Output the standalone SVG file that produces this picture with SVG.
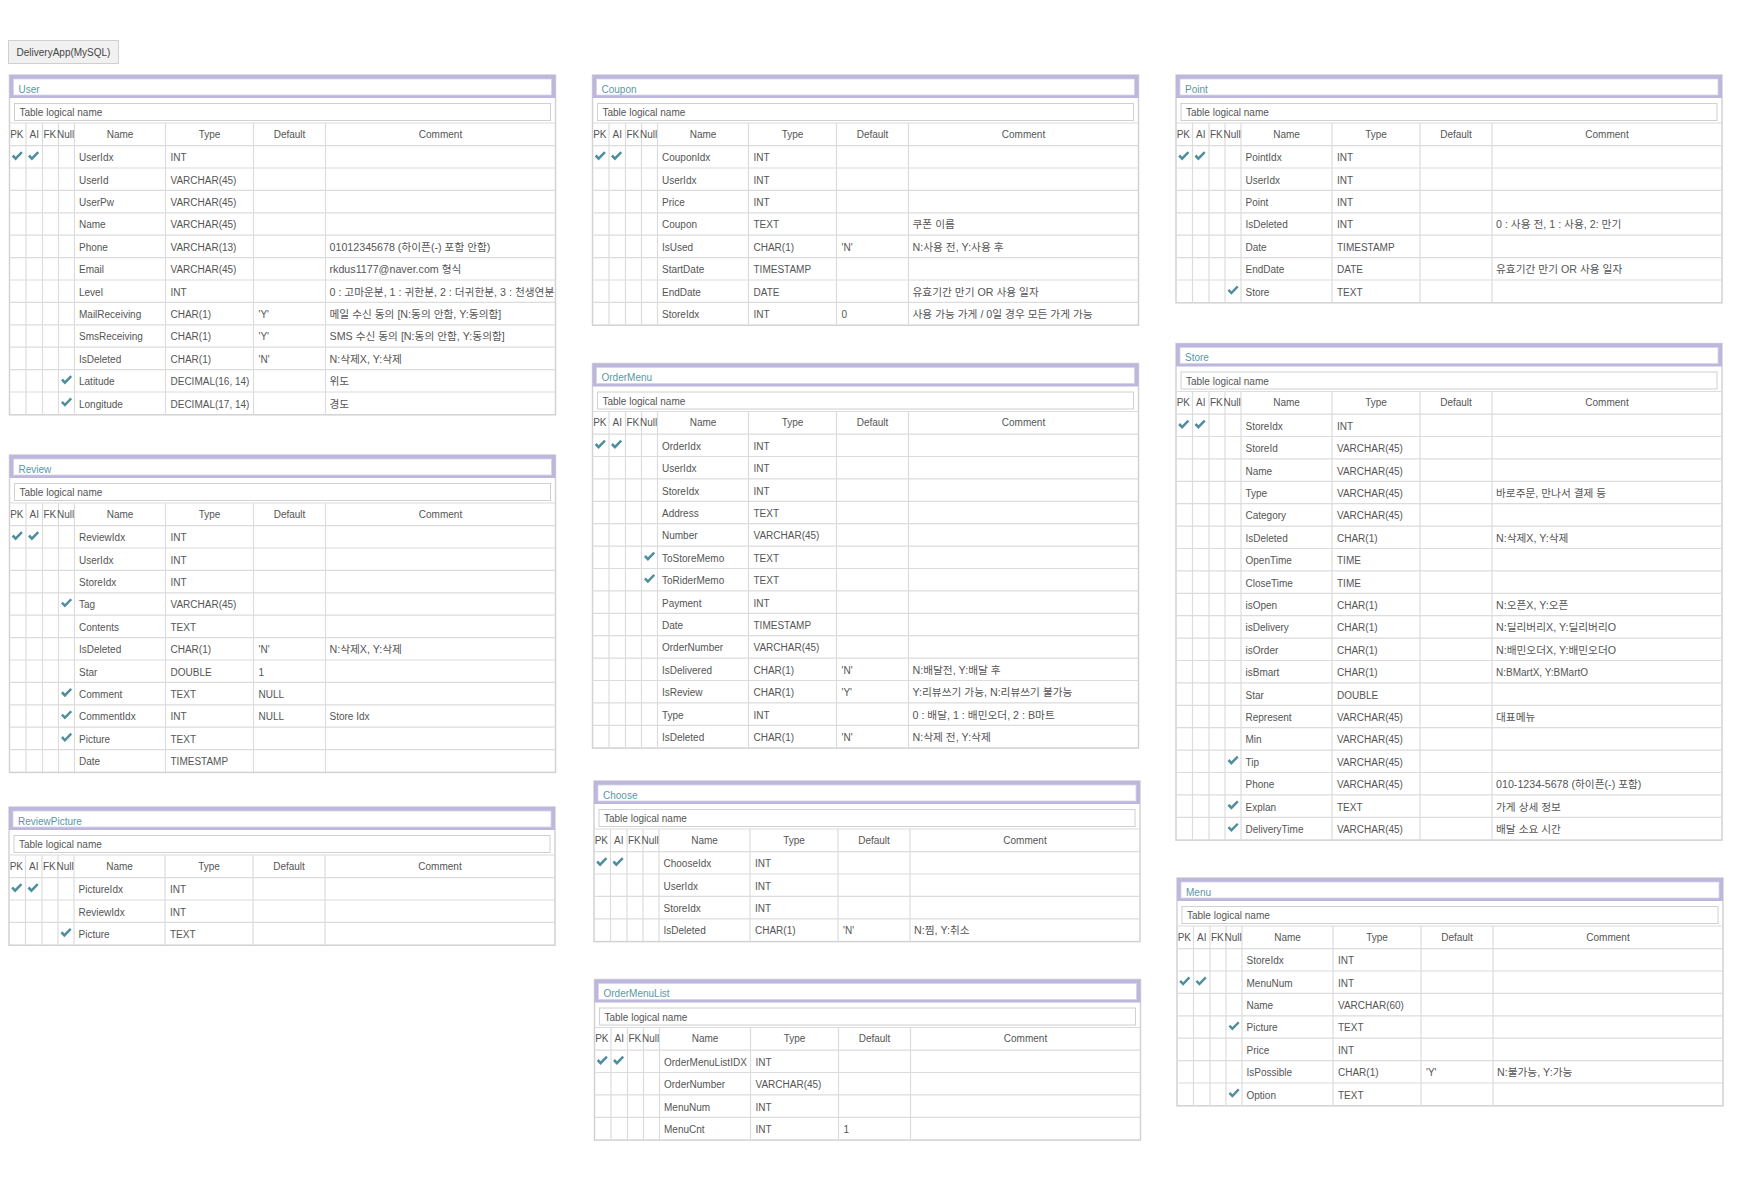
<svg xmlns="http://www.w3.org/2000/svg" xmlns:xlink="http://www.w3.org/1999/xlink" width="1746" height="1184" viewBox="0 0 1746 1184">
<style>
text{font-family:"Liberation Sans","Noto Sans CJK KR",sans-serif;font-size:10px;fill:#555}
.k{font-size:10.7px}
.fr{fill:#fff;stroke:#d2d2d2;stroke-width:1.5}
.g{fill:none;stroke:#dcdcdc;stroke-width:1.2}
.band{fill:#bdb6dd}
.bi{fill:#fff;stroke:#d6d2ea;stroke-width:0.8}
.lb{fill:#fff;stroke:#d0d0d0;stroke-width:1}
.ti{fill:#5a97a6}
.h{text-anchor:middle}
.ck{fill:#4f8e9e}
.btn{fill:#f1f1f1;stroke:#cfcfcf;stroke-width:1}
</style>
<defs>
<path id="ck" class="ck" d="M-5.5,0.2 L-3.6,-1.7 L-1.6,0.6 L3.9,-5 L5.6,-3.3 L-1.6,4.2 Z"/>
<path id="rg" class="g" d="M0,0H546M16.5,0v22.4M33,0v22.4M49,0v22.4M65,0v22.4M156,0v22.4M244,0v22.4M316,0v22.4"/>
<g id="head">
<rect class="band" width="546" height="23"/>
<rect class="bi" x="4" y="4" width="538" height="16"/>
<rect class="lb" x="5" y="28.5" width="536" height="17"/>
<text x="10" y="41.1">Table logical name</text>
<g transform="translate(0,48)">
<use href="#rg"/>
<text x="0.7" y="14.6">PK</text><text x="20" y="14.6">AI</text><text x="34" y="14.6">FK</text><text x="47.5" y="14.6">Null</text>
<text class="h" x="110.5" y="14.6">Name</text><text class="h" x="200" y="14.6">Type</text><text class="h" x="280" y="14.6">Default</text><text class="h" x="431" y="14.6">Comment</text>
</g>
</g>
</defs>

<g id="db-label">
<rect class="btn" x="8.5" y="40.5" width="110" height="23"/>
<text class="h" x="63.5" y="55.6" style="fill:#444">DeliveryApp(MySQL)</text>
</g>

<!-- User -->
<g id="t-user" transform="translate(9.5,75)">
<rect class="fr" width="546" height="339.8"/>
<use href="#head"/>
<text class="ti" x="9" y="17.6">User</text>
<g transform="translate(0,70.6)"><use href="#rg"/><use href="#ck" x="7.7" y="10.6"/><use href="#ck" x="24" y="10.6"/><text x="69.5" y="15.7">UserIdx</text><text x="161" y="15.7">INT</text></g>
<g transform="translate(0,93)"><use href="#rg"/><text x="69.5" y="15.7">UserId</text><text x="161" y="15.7">VARCHAR(45)</text></g>
<g transform="translate(0,115.4)"><use href="#rg"/><text x="69.5" y="15.7">UserPw</text><text x="161" y="15.7">VARCHAR(45)</text></g>
<g transform="translate(0,137.8)"><use href="#rg"/><text x="69.5" y="15.7">Name</text><text x="161" y="15.7">VARCHAR(45)</text></g>
<g transform="translate(0,160.2)"><use href="#rg"/><text x="69.5" y="15.7">Phone</text><text x="161" y="15.7">VARCHAR(13)</text><text class="k" x="320" y="15.7">01012345678 (하이픈(-) 포함 안함)</text></g>
<g transform="translate(0,182.6)"><use href="#rg"/><text x="69.5" y="15.7">Email</text><text x="161" y="15.7">VARCHAR(45)</text><text class="k" x="320" y="15.7">rkdus1177@naver.com 형식</text></g>
<g transform="translate(0,205)"><use href="#rg"/><text x="69.5" y="15.7">Level</text><text x="161" y="15.7">INT</text><text class="k" x="320" y="15.7">0 : 고마운분, 1 : 귀한분, 2 : 더귀한분, 3 : 천생연분</text></g>
<g transform="translate(0,227.4)"><use href="#rg"/><text x="69.5" y="15.7">MailReceiving</text><text x="161" y="15.7">CHAR(1)</text><text x="249" y="15.7">'Y'</text><text class="k" x="320" y="15.7">메일 수신 동의 [N:동의 안함, Y:동의함]</text></g>
<g transform="translate(0,249.8)"><use href="#rg"/><text x="69.5" y="15.7">SmsReceiving</text><text x="161" y="15.7">CHAR(1)</text><text x="249" y="15.7">'Y'</text><text class="k" x="320" y="15.7">SMS 수신 동의 [N:동의 안함, Y:동의함]</text></g>
<g transform="translate(0,272.2)"><use href="#rg"/><text x="69.5" y="15.7">IsDeleted</text><text x="161" y="15.7">CHAR(1)</text><text x="249" y="15.7">'N'</text><text class="k" x="320" y="15.7">N:삭제X, Y:삭제</text></g>
<g transform="translate(0,294.6)"><use href="#rg"/><use href="#ck" x="57" y="10.6"/><text x="69.5" y="15.7">Latitude</text><text x="161" y="15.7">DECIMAL(16, 14)</text><text class="k" x="320" y="15.7">위도</text></g>
<g transform="translate(0,317)"><use href="#rg"/><use href="#ck" x="57" y="10.6"/><text x="69.5" y="15.7">Longitude</text><text x="161" y="15.7">DECIMAL(17, 14)</text><text class="k" x="320" y="15.7">경도</text></g>
</g>

<!-- Review -->
<g id="t-review" transform="translate(9.5,455)">
<rect class="fr" width="546" height="317.4"/>
<use href="#head"/>
<text class="ti" x="9" y="17.6">Review</text>
<g transform="translate(0,70.6)"><use href="#rg"/><use href="#ck" x="7.7" y="10.6"/><use href="#ck" x="24" y="10.6"/><text x="69.5" y="15.7">ReviewIdx</text><text x="161" y="15.7">INT</text></g>
<g transform="translate(0,93)"><use href="#rg"/><text x="69.5" y="15.7">UserIdx</text><text x="161" y="15.7">INT</text></g>
<g transform="translate(0,115.4)"><use href="#rg"/><text x="69.5" y="15.7">StoreIdx</text><text x="161" y="15.7">INT</text></g>
<g transform="translate(0,137.8)"><use href="#rg"/><use href="#ck" x="57" y="10.6"/><text x="69.5" y="15.7">Tag</text><text x="161" y="15.7">VARCHAR(45)</text></g>
<g transform="translate(0,160.2)"><use href="#rg"/><text x="69.5" y="15.7">Contents</text><text x="161" y="15.7">TEXT</text></g>
<g transform="translate(0,182.6)"><use href="#rg"/><text x="69.5" y="15.7">IsDeleted</text><text x="161" y="15.7">CHAR(1)</text><text x="249" y="15.7">'N'</text><text class="k" x="320" y="15.7">N:삭제X, Y:삭제</text></g>
<g transform="translate(0,205)"><use href="#rg"/><text x="69.5" y="15.7">Star</text><text x="161" y="15.7">DOUBLE</text><text x="249" y="15.7">1</text></g>
<g transform="translate(0,227.4)"><use href="#rg"/><use href="#ck" x="57" y="10.6"/><text x="69.5" y="15.7">Comment</text><text x="161" y="15.7">TEXT</text><text x="249" y="15.7">NULL</text></g>
<g transform="translate(0,249.8)"><use href="#rg"/><use href="#ck" x="57" y="10.6"/><text x="69.5" y="15.7">CommentIdx</text><text x="161" y="15.7">INT</text><text x="249" y="15.7">NULL</text><text x="320" y="15.7">Store Idx</text></g>
<g transform="translate(0,272.2)"><use href="#rg"/><use href="#ck" x="57" y="10.6"/><text x="69.5" y="15.7">Picture</text><text x="161" y="15.7">TEXT</text></g>
<g transform="translate(0,294.6)"><use href="#rg"/><text x="69.5" y="15.7">Date</text><text x="161" y="15.7">TIMESTAMP</text></g>
</g>

<!-- ReviewPicture -->
<g id="t-reviewpicture" transform="translate(9,807)">
<rect class="fr" width="546" height="138.2"/>
<use href="#head"/>
<text class="ti" x="9" y="17.6">ReviewPicture</text>
<g transform="translate(0,70.6)"><use href="#rg"/><use href="#ck" x="7.7" y="10.6"/><use href="#ck" x="24" y="10.6"/><text x="69.5" y="15.7">PictureIdx</text><text x="161" y="15.7">INT</text></g>
<g transform="translate(0,93)"><use href="#rg"/><text x="69.5" y="15.7">ReviewIdx</text><text x="161" y="15.7">INT</text></g>
<g transform="translate(0,115.4)"><use href="#rg"/><use href="#ck" x="57" y="10.6"/><text x="69.5" y="15.7">Picture</text><text x="161" y="15.7">TEXT</text></g>
</g>

<!-- Coupon -->
<g id="t-coupon" transform="translate(592.5,75)">
<rect class="fr" width="546" height="250.2"/>
<use href="#head"/>
<text class="ti" x="9" y="17.6">Coupon</text>
<g transform="translate(0,70.6)"><use href="#rg"/><use href="#ck" x="7.7" y="10.6"/><use href="#ck" x="24" y="10.6"/><text x="69.5" y="15.7">CouponIdx</text><text x="161" y="15.7">INT</text></g>
<g transform="translate(0,93)"><use href="#rg"/><text x="69.5" y="15.7">UserIdx</text><text x="161" y="15.7">INT</text></g>
<g transform="translate(0,115.4)"><use href="#rg"/><text x="69.5" y="15.7">Price</text><text x="161" y="15.7">INT</text></g>
<g transform="translate(0,137.8)"><use href="#rg"/><text x="69.5" y="15.7">Coupon</text><text x="161" y="15.7">TEXT</text><text class="k" x="320" y="15.7">쿠폰 이름</text></g>
<g transform="translate(0,160.2)"><use href="#rg"/><text x="69.5" y="15.7">IsUsed</text><text x="161" y="15.7">CHAR(1)</text><text x="249" y="15.7">'N'</text><text class="k" x="320" y="15.7">N:사용 전, Y:사용 후</text></g>
<g transform="translate(0,182.6)"><use href="#rg"/><text x="69.5" y="15.7">StartDate</text><text x="161" y="15.7">TIMESTAMP</text></g>
<g transform="translate(0,205)"><use href="#rg"/><text x="69.5" y="15.7">EndDate</text><text x="161" y="15.7">DATE</text><text class="k" x="320" y="15.7">유효기간 만기 OR 사용 일자</text></g>
<g transform="translate(0,227.4)"><use href="#rg"/><text x="69.5" y="15.7">StoreIdx</text><text x="161" y="15.7">INT</text><text x="249" y="15.7">0</text><text class="k" x="320" y="15.7">사용 가능 가게 / 0일 경우 모든 가게 가능</text></g>
</g>

<!-- OrderMenu -->
<g id="t-ordermenu" transform="translate(592.5,363.5)">
<rect class="fr" width="546" height="384.6"/>
<use href="#head"/>
<text class="ti" x="9" y="17.6">OrderMenu</text>
<g transform="translate(0,70.6)"><use href="#rg"/><use href="#ck" x="7.7" y="10.6"/><use href="#ck" x="24" y="10.6"/><text x="69.5" y="15.7">OrderIdx</text><text x="161" y="15.7">INT</text></g>
<g transform="translate(0,93)"><use href="#rg"/><text x="69.5" y="15.7">UserIdx</text><text x="161" y="15.7">INT</text></g>
<g transform="translate(0,115.4)"><use href="#rg"/><text x="69.5" y="15.7">StoreIdx</text><text x="161" y="15.7">INT</text></g>
<g transform="translate(0,137.8)"><use href="#rg"/><text x="69.5" y="15.7">Address</text><text x="161" y="15.7">TEXT</text></g>
<g transform="translate(0,160.2)"><use href="#rg"/><text x="69.5" y="15.7">Number</text><text x="161" y="15.7">VARCHAR(45)</text></g>
<g transform="translate(0,182.6)"><use href="#rg"/><use href="#ck" x="57" y="10.6"/><text x="69.5" y="15.7">ToStoreMemo</text><text x="161" y="15.7">TEXT</text></g>
<g transform="translate(0,205)"><use href="#rg"/><use href="#ck" x="57" y="10.6"/><text x="69.5" y="15.7">ToRiderMemo</text><text x="161" y="15.7">TEXT</text></g>
<g transform="translate(0,227.4)"><use href="#rg"/><text x="69.5" y="15.7">Payment</text><text x="161" y="15.7">INT</text></g>
<g transform="translate(0,249.8)"><use href="#rg"/><text x="69.5" y="15.7">Date</text><text x="161" y="15.7">TIMESTAMP</text></g>
<g transform="translate(0,272.2)"><use href="#rg"/><text x="69.5" y="15.7">OrderNumber</text><text x="161" y="15.7">VARCHAR(45)</text></g>
<g transform="translate(0,294.6)"><use href="#rg"/><text x="69.5" y="15.7">IsDelivered</text><text x="161" y="15.7">CHAR(1)</text><text x="249" y="15.7">'N'</text><text class="k" x="320" y="15.7">N:배달전, Y:배달 후</text></g>
<g transform="translate(0,317)"><use href="#rg"/><text x="69.5" y="15.7">IsReview</text><text x="161" y="15.7">CHAR(1)</text><text x="249" y="15.7">'Y'</text><text class="k" x="320" y="15.7">Y:리뷰쓰기 가능, N:리뷰쓰기 불가능</text></g>
<g transform="translate(0,339.4)"><use href="#rg"/><text x="69.5" y="15.7">Type</text><text x="161" y="15.7">INT</text><text class="k" x="320" y="15.7">0 : 배달, 1 : 배민오더, 2 : B마트</text></g>
<g transform="translate(0,361.8)"><use href="#rg"/><text x="69.5" y="15.7">IsDeleted</text><text x="161" y="15.7">CHAR(1)</text><text x="249" y="15.7">'N'</text><text class="k" x="320" y="15.7">N:삭제 전, Y:삭제</text></g>
</g>

<!-- Choose -->
<g id="t-choose" transform="translate(594,781)">
<rect class="fr" width="546" height="160.6"/>
<use href="#head"/>
<text class="ti" x="9" y="17.6">Choose</text>
<g transform="translate(0,70.6)"><use href="#rg"/><use href="#ck" x="7.7" y="10.6"/><use href="#ck" x="24" y="10.6"/><text x="69.5" y="15.7">ChooseIdx</text><text x="161" y="15.7">INT</text></g>
<g transform="translate(0,93)"><use href="#rg"/><text x="69.5" y="15.7">UserIdx</text><text x="161" y="15.7">INT</text></g>
<g transform="translate(0,115.4)"><use href="#rg"/><text x="69.5" y="15.7">StoreIdx</text><text x="161" y="15.7">INT</text></g>
<g transform="translate(0,137.8)"><use href="#rg"/><text x="69.5" y="15.7">IsDeleted</text><text x="161" y="15.7">CHAR(1)</text><text x="249" y="15.7">'N'</text><text class="k" x="320" y="15.7">N:찜, Y:취소</text></g>
</g>

<!-- OrderMenuList -->
<g id="t-ordermenulist" transform="translate(594.5,979.5)">
<rect class="fr" width="546" height="160.6"/>
<use href="#head"/>
<text class="ti" x="9" y="17.6">OrderMenuList</text>
<g transform="translate(0,70.6)"><use href="#rg"/><use href="#ck" x="7.7" y="10.6"/><use href="#ck" x="24" y="10.6"/><text x="69.5" y="15.7">OrderMenuListIDX</text><text x="161" y="15.7">INT</text></g>
<g transform="translate(0,93)"><use href="#rg"/><text x="69.5" y="15.7">OrderNumber</text><text x="161" y="15.7">VARCHAR(45)</text></g>
<g transform="translate(0,115.4)"><use href="#rg"/><text x="69.5" y="15.7">MenuNum</text><text x="161" y="15.7">INT</text></g>
<g transform="translate(0,137.8)"><use href="#rg"/><text x="69.5" y="15.7">MenuCnt</text><text x="161" y="15.7">INT</text><text x="249" y="15.7">1</text></g>
</g>

<!-- Point -->
<g id="t-point" transform="translate(1176,75)">
<rect class="fr" width="546" height="227.8"/>
<use href="#head"/>
<text class="ti" x="9" y="17.6">Point</text>
<g transform="translate(0,70.6)"><use href="#rg"/><use href="#ck" x="7.7" y="10.6"/><use href="#ck" x="24" y="10.6"/><text x="69.5" y="15.7">PointIdx</text><text x="161" y="15.7">INT</text></g>
<g transform="translate(0,93)"><use href="#rg"/><text x="69.5" y="15.7">UserIdx</text><text x="161" y="15.7">INT</text></g>
<g transform="translate(0,115.4)"><use href="#rg"/><text x="69.5" y="15.7">Point</text><text x="161" y="15.7">INT</text></g>
<g transform="translate(0,137.8)"><use href="#rg"/><text x="69.5" y="15.7">IsDeleted</text><text x="161" y="15.7">INT</text><text class="k" x="320" y="15.7">0 : 사용 전, 1 : 사용, 2: 만기</text></g>
<g transform="translate(0,160.2)"><use href="#rg"/><text x="69.5" y="15.7">Date</text><text x="161" y="15.7">TIMESTAMP</text></g>
<g transform="translate(0,182.6)"><use href="#rg"/><text x="69.5" y="15.7">EndDate</text><text x="161" y="15.7">DATE</text><text class="k" x="320" y="15.7">유효기간 만기 OR 사용 일자</text></g>
<g transform="translate(0,205)"><use href="#rg"/><use href="#ck" x="57" y="10.6"/><text x="69.5" y="15.7">Store</text><text x="161" y="15.7">TEXT</text></g>
</g>

<!-- Store -->
<g id="t-store" transform="translate(1176,343.5)">
<rect class="fr" width="546" height="496.6"/>
<use href="#head"/>
<text class="ti" x="9" y="17.6">Store</text>
<g transform="translate(0,70.6)"><use href="#rg"/><use href="#ck" x="7.7" y="10.6"/><use href="#ck" x="24" y="10.6"/><text x="69.5" y="15.7">StoreIdx</text><text x="161" y="15.7">INT</text></g>
<g transform="translate(0,93)"><use href="#rg"/><text x="69.5" y="15.7">StoreId</text><text x="161" y="15.7">VARCHAR(45)</text></g>
<g transform="translate(0,115.4)"><use href="#rg"/><text x="69.5" y="15.7">Name</text><text x="161" y="15.7">VARCHAR(45)</text></g>
<g transform="translate(0,137.8)"><use href="#rg"/><text x="69.5" y="15.7">Type</text><text x="161" y="15.7">VARCHAR(45)</text><text class="k" x="320" y="15.7">바로주문, 만나서 결제 등</text></g>
<g transform="translate(0,160.2)"><use href="#rg"/><text x="69.5" y="15.7">Category</text><text x="161" y="15.7">VARCHAR(45)</text></g>
<g transform="translate(0,182.6)"><use href="#rg"/><text x="69.5" y="15.7">IsDeleted</text><text x="161" y="15.7">CHAR(1)</text><text class="k" x="320" y="15.7">N:삭제X, Y:삭제</text></g>
<g transform="translate(0,205)"><use href="#rg"/><text x="69.5" y="15.7">OpenTime</text><text x="161" y="15.7">TIME</text></g>
<g transform="translate(0,227.4)"><use href="#rg"/><text x="69.5" y="15.7">CloseTime</text><text x="161" y="15.7">TIME</text></g>
<g transform="translate(0,249.8)"><use href="#rg"/><text x="69.5" y="15.7">isOpen</text><text x="161" y="15.7">CHAR(1)</text><text class="k" x="320" y="15.7">N:오픈X, Y:오픈</text></g>
<g transform="translate(0,272.2)"><use href="#rg"/><text x="69.5" y="15.7">isDelivery</text><text x="161" y="15.7">CHAR(1)</text><text class="k" x="320" y="15.7">N:딜리버리X, Y:딜리버리O</text></g>
<g transform="translate(0,294.6)"><use href="#rg"/><text x="69.5" y="15.7">isOrder</text><text x="161" y="15.7">CHAR(1)</text><text class="k" x="320" y="15.7">N:배민오더X, Y:배민오더O</text></g>
<g transform="translate(0,317)"><use href="#rg"/><text x="69.5" y="15.7">isBmart</text><text x="161" y="15.7">CHAR(1)</text><text x="320" y="15.7">N:BMartX, Y:BMartO</text></g>
<g transform="translate(0,339.4)"><use href="#rg"/><text x="69.5" y="15.7">Star</text><text x="161" y="15.7">DOUBLE</text></g>
<g transform="translate(0,361.8)"><use href="#rg"/><text x="69.5" y="15.7">Represent</text><text x="161" y="15.7">VARCHAR(45)</text><text class="k" x="320" y="15.7">대표메뉴</text></g>
<g transform="translate(0,384.2)"><use href="#rg"/><text x="69.5" y="15.7">Min</text><text x="161" y="15.7">VARCHAR(45)</text></g>
<g transform="translate(0,406.6)"><use href="#rg"/><use href="#ck" x="57" y="10.6"/><text x="69.5" y="15.7">Tip</text><text x="161" y="15.7">VARCHAR(45)</text></g>
<g transform="translate(0,429)"><use href="#rg"/><text x="69.5" y="15.7">Phone</text><text x="161" y="15.7">VARCHAR(45)</text><text class="k" x="320" y="15.7">010-1234-5678 (하이픈(-) 포함)</text></g>
<g transform="translate(0,451.4)"><use href="#rg"/><use href="#ck" x="57" y="10.6"/><text x="69.5" y="15.7">Explan</text><text x="161" y="15.7">TEXT</text><text class="k" x="320" y="15.7">가게 상세 정보</text></g>
<g transform="translate(0,473.8)"><use href="#rg"/><use href="#ck" x="57" y="10.6"/><text x="69.5" y="15.7">DeliveryTime</text><text x="161" y="15.7">VARCHAR(45)</text><text class="k" x="320" y="15.7">배달 소요 시간</text></g>
</g>

<!-- Menu -->
<g id="t-menu" transform="translate(1177,878)">
<rect class="fr" width="546" height="227.8"/>
<use href="#head"/>
<text class="ti" x="9" y="17.6">Menu</text>
<g transform="translate(0,70.6)"><use href="#rg"/><text x="69.5" y="15.7">StoreIdx</text><text x="161" y="15.7">INT</text></g>
<g transform="translate(0,93)"><use href="#rg"/><use href="#ck" x="7.7" y="10.6"/><use href="#ck" x="24" y="10.6"/><text x="69.5" y="15.7">MenuNum</text><text x="161" y="15.7">INT</text></g>
<g transform="translate(0,115.4)"><use href="#rg"/><text x="69.5" y="15.7">Name</text><text x="161" y="15.7">VARCHAR(60)</text></g>
<g transform="translate(0,137.8)"><use href="#rg"/><use href="#ck" x="57" y="10.6"/><text x="69.5" y="15.7">Picture</text><text x="161" y="15.7">TEXT</text></g>
<g transform="translate(0,160.2)"><use href="#rg"/><text x="69.5" y="15.7">Price</text><text x="161" y="15.7">INT</text></g>
<g transform="translate(0,182.6)"><use href="#rg"/><text x="69.5" y="15.7">IsPossible</text><text x="161" y="15.7">CHAR(1)</text><text x="249" y="15.7">'Y'</text><text class="k" x="320" y="15.7">N:불가능, Y:가능</text></g>
<g transform="translate(0,205)"><use href="#rg"/><use href="#ck" x="57" y="10.6"/><text x="69.5" y="15.7">Option</text><text x="161" y="15.7">TEXT</text></g>
</g>
</svg>
